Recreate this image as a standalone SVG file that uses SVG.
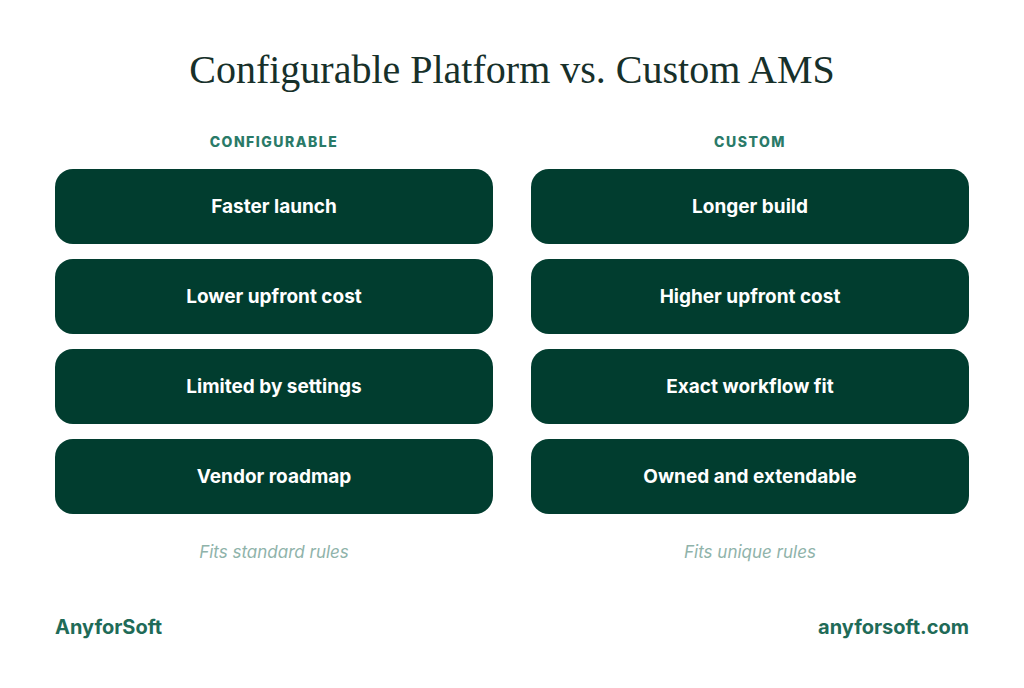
<svg xmlns="http://www.w3.org/2000/svg" width="1024" height="688" viewBox="0 0 1024 688">
<style>
.box{fill:#013d2f}
.bt{font-family:Inter,"Open Sans",sans-serif;font-weight:700;font-size:19px;fill:#fff;text-anchor:middle}
.hd{font-family:Inter,"Open Sans",sans-serif;font-weight:800;font-size:14px;fill:#2a7a68;text-anchor:middle;letter-spacing:1.5px}
.ft{font-family:Inter,"Open Sans",sans-serif;font-style:italic;font-size:17px;fill:#8fb3aa;text-anchor:middle}
.br{font-family:Inter,"Open Sans",sans-serif;font-weight:700;font-size:20px;fill:#1f6b58}
</style>
<rect width="1024" height="688" fill="#fff"/>
<text x="512" y="83" text-anchor="middle" font-family="'Liberation Serif',serif" font-size="40" fill="#17302a">Configurable Platform vs. Custom AMS</text>
<text class="hd" x="274" y="147">CONFIGURABLE</text>
<text class="hd" x="750" y="147">CUSTOM</text>
<g id="c1"><rect class="box" x="55" y="169" width="438" height="75" rx="18"/><text class="bt" x="274" y="213">Faster launch</text></g>
<g id="c2"><rect class="box" x="55" y="259" width="438" height="75" rx="18"/><text class="bt" x="274" y="303">Lower upfront cost</text></g>
<g id="c3"><rect class="box" x="55" y="349" width="438" height="75" rx="18"/><text class="bt" x="274" y="393">Limited by settings</text></g>
<g id="c4"><rect class="box" x="55" y="439" width="438" height="75" rx="18"/><text class="bt" x="274" y="483">Vendor roadmap</text></g>
<g id="u1"><rect class="box" x="531" y="169" width="438" height="75" rx="18"/><text class="bt" x="750" y="213">Longer build</text></g>
<g id="u2"><rect class="box" x="531" y="259" width="438" height="75" rx="18"/><text class="bt" x="750" y="303">Higher upfront cost</text></g>
<g id="u3"><rect class="box" x="531" y="349" width="438" height="75" rx="18"/><text class="bt" x="750" y="393">Exact workflow fit</text></g>
<g id="u4"><rect class="box" x="531" y="439" width="438" height="75" rx="18"/><text class="bt" x="750" y="483">Owned and extendable</text></g>
<text class="ft" x="274" y="558">Fits standard rules</text>
<text class="ft" x="750" y="558">Fits unique rules</text>
<text class="br" x="55" y="634">AnyforSoft</text>
<text class="br" x="969" y="634" text-anchor="end">anyforsoft.com</text>
<g id="connectors"/>
</svg>
